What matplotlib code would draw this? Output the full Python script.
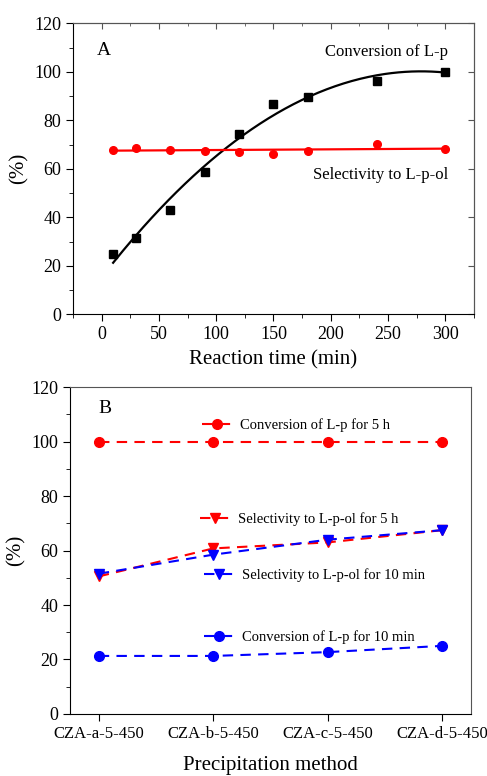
import numpy as np
import matplotlib
matplotlib.use("Agg")
import matplotlib.pyplot as plt
from matplotlib.ticker import MultipleLocator, NullFormatter
from matplotlib.lines import Line2D
from matplotlib.legend import Legend

plt.rcParams['font.family'] = ['Liberation Serif', 'DejaVu Serif']

# panel A data
time_min = [10, 30, 60, 90, 120, 150, 180, 240, 300]
conversion = [25.0, 31.5, 43.0, 58.5, 74.5, 86.8, 89.7, 96.3, 100.0]
selectivity = [67.8, 68.4, 67.8, 67.5, 67.0, 66.3, 67.3, 70.3, 68.0]

# panel B data
samples = ['CZA-a-5-450', 'CZA-b-5-450', 'CZA-c-5-450', 'CZA-d-5-450']
conv_5h = [100, 100, 100, 100]
sel_5h = [50.5, 60.8, 63.0, 67.5]
sel_10min = [51.5, 58.5, 64.0, 67.5]
conv_10min = [21.3, 21.3, 22.7, 25.0]

spine_col = '#555555'
dash = (0, (5, 3.5))

fig = plt.figure(figsize=(4.87, 7.76), dpi=100)
ax1 = fig.add_axes([0.150, 0.595, 0.823, 0.375])
ax2 = fig.add_axes([0.144, 0.080, 0.823, 0.421])

# ---- panel A
ax1.plot(time_min, conversion, 's', color='black', ms=5.5)
ax1.plot(time_min, selectivity, 'o', color='red', ms=5.5)
tt = np.linspace(time_min[0], time_min[-1], 200)
pc = np.polyfit(time_min, conversion, 2)
ax1.plot(tt, np.polyval(pc, tt), color='black', lw=1.6)
ps = np.polyfit(time_min, selectivity, 1)
ax1.plot(tt, np.polyval(ps, tt), color='red', lw=1.6)

ax1.set_xlim(-25, 325)
ax1.set_ylim(0, 120)
ax1.xaxis.set_major_locator(MultipleLocator(50))
ax1.xaxis.set_minor_locator(MultipleLocator(25))
ax1.yaxis.set_major_locator(MultipleLocator(20))
ax1.yaxis.set_minor_locator(MultipleLocator(10))
ax1.tick_params(which='both', direction='out', labelsize=13, color='black')
ax1.tick_params(which='major', length=5)
ax1.tick_params(which='minor', length=3)
for side in ['top', 'right']:
    ax1.spines[side].set_color(spine_col)

# inward ticks on top and right
top = ax1.secondary_xaxis('top')
top.xaxis.set_major_locator(MultipleLocator(50))
top.xaxis.set_minor_locator(MultipleLocator(25))
top.xaxis.set_major_formatter(NullFormatter())
top.tick_params(which='both', direction='in', color=spine_col)
top.tick_params(which='major', length=4)
top.tick_params(which='minor', length=2.5)
top.spines['top'].set_color(spine_col)
right = ax1.secondary_yaxis('right')
right.yaxis.set_major_locator(MultipleLocator(20))
right.yaxis.set_minor_locator(MultipleLocator(10))
right.yaxis.set_major_formatter(NullFormatter())
right.tick_params(which='both', direction='in', color=spine_col)
right.tick_params(which='major', length=4)
right.tick_params(which='minor', length=0)
right.spines['right'].set_color(spine_col)

ax1.set_xlabel('Reaction time (min)', fontsize=15, labelpad=5)
ax1.set_ylabel('(%)', fontsize=15, labelpad=4)
ax1.text(0.06, 0.905, 'A', transform=ax1.transAxes, fontsize=14, va='center')
ax1.text(0.935, 0.90, 'Conversion of L-p', transform=ax1.transAxes,
         fontsize=12, ha='right', va='center')
ax1.text(0.937, 0.48, 'Selectivity to L-p-ol', transform=ax1.transAxes,
         fontsize=12, ha='right', va='center')

# ---- panel B
x = np.arange(len(samples))
series = [
    (conv_5h, 'red', 'o', 'Conversion of L-p for 5 h', (0.329, 0.884)),
    (sel_5h, 'red', 'v', 'Selectivity to L-p-ol for 5 h', (0.324, 0.596)),
    (sel_10min, 'blue', 'v', 'Selectivity to L-p-ol for 10 min', (0.334, 0.425)),
    (conv_10min, 'blue', 'o', 'Conversion of L-p for 10 min', (0.334, 0.235)),
]
for vals, col, mk, lab, pos in series:
    ax2.plot(x, vals, color=col, marker=mk, ms=7, lw=1.5, linestyle=dash)
    h = Line2D([], [], color=col, marker=mk, ms=7, lw=1.5, linestyle=dash)
    leg = Legend(ax2, [h], [lab], loc='center left', bbox_to_anchor=pos,
                 frameon=False, fontsize=10.5, borderpad=0, borderaxespad=0,
                 handlelength=2.0, handletextpad=0.6)
    ax2.add_artist(leg)

ax2.set_xlim(-0.25, 3.25)
ax2.set_ylim(0, 120)
ax2.set_xticks(x)
ax2.set_xticklabels(samples)
ax2.yaxis.set_major_locator(MultipleLocator(20))
ax2.yaxis.set_minor_locator(MultipleLocator(10))
ax2.tick_params(which='both', direction='out', color='black')
ax2.tick_params(axis='y', which='major', length=5, labelsize=13)
ax2.tick_params(axis='y', which='minor', length=3)
ax2.tick_params(axis='x', length=5, labelsize=12)
for side in ['top', 'right']:
    ax2.spines[side].set_color(spine_col)
ax2.set_xlabel('Precipitation method', fontsize=15, labelpad=10)
ax2.set_ylabel('(%)', fontsize=15, labelpad=4)
ax2.text(0.07, 0.935, 'B', transform=ax2.transAxes, fontsize=14, va='center')

fig.savefig('out.png', dpi=100, facecolor='white')
